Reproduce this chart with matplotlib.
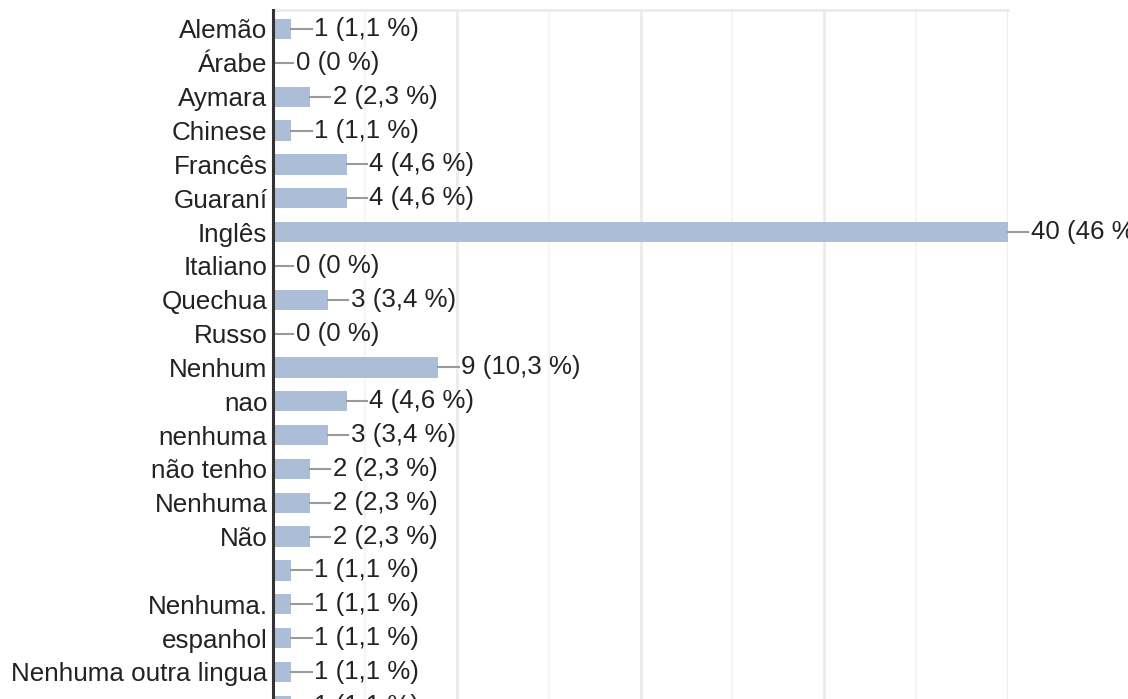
import matplotlib.pyplot as plt

plt.rcParams['font.family'] = ['Liberation Sans', 'DejaVu Sans']

languages = ['Alemão', 'Árabe', 'Aymara', 'Chinese', 'Francês', 'Guaraní', 'Inglês',
             'Italiano', 'Quechua', 'Russo', 'Nenhum', 'nao', 'nenhuma', 'não tenho',
             'Nenhuma', 'Não', '', 'Nenhuma.', 'espanhol', 'Nenhuma outra lingua', '']
counts = [1, 0, 2, 1, 4, 4, 40, 0, 3, 0, 9, 4, 3, 2, 2, 2, 1, 1, 1, 1, 1]
percents = ['1,1', '0', '2,3', '1,1', '4,6', '4,6', '46', '0', '3,4', '0', '10,3', '4,6',
            '3,4', '2,3', '2,3', '2,3', '1,1', '1,1', '1,1', '1,1', '1,1']

W, H = 1128, 699
fig = plt.figure(figsize=(W / 100, H / 100), dpi=100)

# axes placed in pixels; bottom runs past the figure so the last row is cut off
left, right, top, bottom = 273, 1008, 10, 740
ax = fig.add_axes([left / W, 1 - bottom / H, (right - left) / W, (bottom - top) / H])

row_h = 33.84
y = list(range(len(languages)))
ax.barh(y, counts, height=0.6, color='#abbdd7', zorder=3)

for i, (c, p) in enumerate(zip(counts, percents)):
    ax.plot([c, c + 1.1], [i, i], color='#9a9a9a', lw=1.5, zorder=3, clip_on=False)
    ax.text(c + 1.25, i, '{} ({} %)'.format(c, p), va='center', ha='left',
            fontsize=18.6, color='#222222', clip_on=False)

ax.set_xlim(0, 40)
ax.set_ylim((bottom - 29) / row_h, -(29 - top) / row_h)

ax.set_xticks([0, 10, 20, 30, 40])
ax.set_xticks([5, 15, 25, 35], minor=True)
ax.grid(which='major', axis='x', color='#ebebeb', lw=2, zorder=0)
ax.grid(which='minor', axis='x', color='#f5f5f5', lw=1.5, zorder=0)
ax.tick_params(axis='x', which='both', length=0, labelbottom=False)

ax.set_yticks(y)
ax.set_yticklabels(languages, fontsize=18.7, color='#222222')
ax.tick_params(axis='y', length=0, pad=4)

ax.spines['left'].set_color('#333333')
ax.spines['left'].set_linewidth(2.2)
ax.spines['left'].set_zorder(4)
ax.spines['top'].set_color('#ebebeb')
ax.spines['top'].set_linewidth(2)
ax.spines['right'].set_visible(False)
ax.spines['bottom'].set_visible(False)

fig.savefig('out.png', dpi=100)
